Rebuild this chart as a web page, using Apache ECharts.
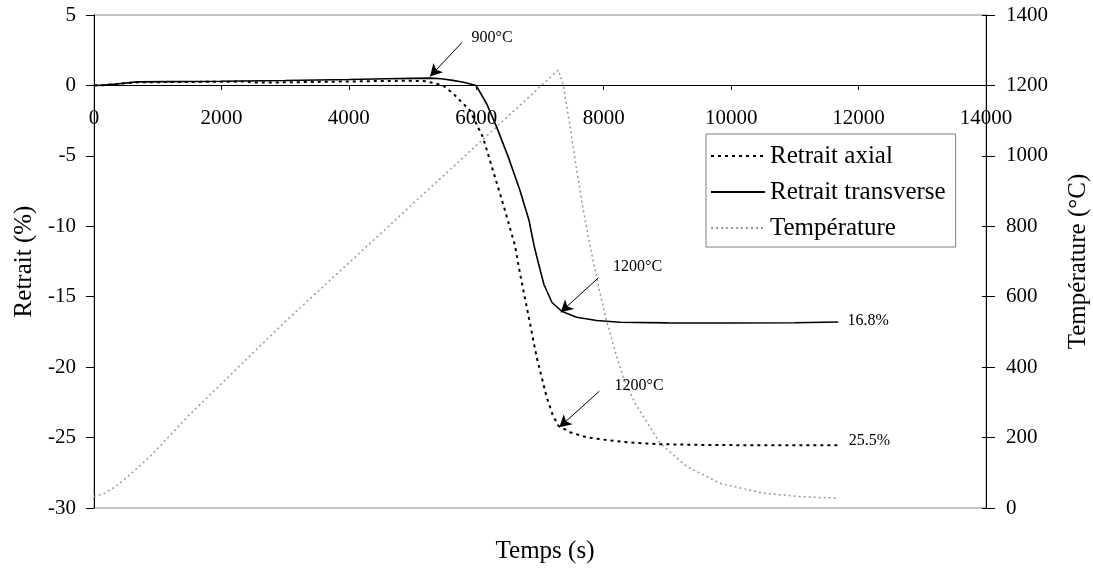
<!DOCTYPE html>
<html>
<head>
<meta charset="utf-8">
<script src="https://cdn.jsdelivr.net/npm/echarts@6/dist/echarts.min.js"></script>
<style>html,body{margin:0;padding:0;background:#fff;}#c{width:1093px;height:569px;}</style>
</head>
<body>
<div id="c"></div>
<script>
// ---- data ----
const axialTime = [0,150,350,675,1200,2000,2400,2500,3000,4000,4600,5000,5200,5350,5480,5635,5901,6105,6262,6419,6607,6686,6812,6948,7105,7200,7287,7471,7733,8099,8500,8884,9500,10500,11680];
const axialValues = [0,0.02,0.1,0.22,0.24,0.26,0.28,0.2,0.22,0.28,0.32,0.33,0.3,0.15,0,-0.57,-1.78,-3.69,-6.04,-8.38,-11.36,-13.35,-16.19,-19.3,-22.14,-23.4,-24.15,-24.62,-24.98,-25.21,-25.38,-25.47,-25.52,-25.55,-25.55];
const transTime = [0,150,350,675,1200,2000,3000,4000,4600,5000,5274,5450,5630,5800,5996,6163,6320,6503,6686,6828,6906,6984,7062,7188,7345,7576,7890,8256,9000,10000,11000,11680];
const transValues = [0,0.02,0.1,0.25,0.27,0.3,0.35,0.42,0.47,0.5,0.52,0.47,0.36,0.22,0,-1.3,-2.96,-5.09,-7.46,-9.59,-11.36,-12.78,-14.13,-15.41,-16.05,-16.46,-16.69,-16.81,-16.86,-16.87,-16.85,-16.8];
const tempTime = [0,150,350,600,900,1500,3000,5000,7288,7366,7471,7576,7680,7785,7916,8047,8204,8308,8491,8884,9303,9826,10505,11100,11680];
const tempValues = [33,40,62,100,150,265,529,863,1244,1201,1083,960,846,745,630,530,430,370,298,184,118,70,42,32,28];
const seriesNames = ['Retrait axial','Retrait transverse','Température'];
const xTicks = {min:0,max:14000,interval:2000};
const yLeftTicks = {min:-30,max:5,interval:5};
const yRightTicks = {min:0,max:1400,interval:200};
// annotations: [label, textTime, textValue, arrowFromTime, arrowFromValue, arrowToTime, arrowToValue]
const arrowNotes = [
  ['900°C',6247,3.41,5776,3.05,5274,0.64],
  ['1200°C',8531,-12.86,7915,-13.66,7325,-16.1],
  ['1200°C',8554,-21.31,7931,-21.71,7303,-24.27]
];
const endNotes = [['16.8%',12149,-16.69],['25.5%',12172,-25.21]];

const zip = (a,b)=>a.map((t,i)=>[t,b[i]]);
const FONT = '"Liberation Serif","Times New Roman",serif';
const plain = v=>String(v);

const chart = echarts.init(document.getElementById('c'), null, {renderer:'canvas'});
const markPts = arrowNotes.map(n=>({coord:[n[1],n[2]], value:n[0]}))
  .concat(endNotes.map(n=>({coord:[n[1],n[2]], value:n[0]})));
const markLns = arrowNotes.map(n=>[{coord:[n[3],n[4]]},{coord:[n[5],n[6]]}]);

chart.setOption({
  animation:false,
  backgroundColor:'#fff',
  title:{text:'Temps (s)', left:540, top:534, textAlign:'center',
    textStyle:{fontFamily:FONT, fontSize:25, fontWeight:'normal', color:'#000'}},
  grid:{left:94, right:107, top:15, bottom:61, show:true, borderColor:'#888', borderWidth:1,
    containLabel:false, outerBoundsMode:'none'},
  legend:{orient:'vertical', left:706, top:134, itemWidth:54, itemHeight:14, itemGap:10,
    backgroundColor:'#fff', borderColor:'#808080', borderWidth:1, padding:[9,10,6,4],
    itemStyle:{opacity:0},
    textStyle:{fontFamily:FONT, fontSize:25, lineHeight:26, color:'#000'},
    data:seriesNames},
  xAxis:{type:'value', min:xTicks.min, max:xTicks.max, interval:xTicks.interval,
    offset:-423,
    axisLine:{onZero:false, lineStyle:{color:'#000', width:1}},
    axisTick:{show:true, length:5, lineStyle:{color:'#000'}},
    axisLabel:{margin:23, fontFamily:FONT, fontSize:21, color:'#000', formatter:plain},
    splitLine:{show:false}},
  yAxis:[
    {type:'value', position:'left', min:yLeftTicks.min, max:yLeftTicks.max, interval:yLeftTicks.interval,
     name:'Retrait (%)', nameLocation:'middle', nameGap:57, nameRotate:90,
     nameTextStyle:{fontFamily:FONT, fontSize:25, color:'#000'},
     axisLine:{show:true, lineStyle:{color:'#000'}},
     axisTick:{show:true, length:8, lineStyle:{color:'#000'}},
     axisLabel:{margin:18, fontFamily:FONT, fontSize:21, color:'#000', formatter:plain},
     splitLine:{show:false}},
    {type:'value', position:'right', min:yRightTicks.min, max:yRightTicks.max, interval:yRightTicks.interval,
     name:'Température (°C)', nameLocation:'middle', nameGap:80, nameRotate:90,
     nameTextStyle:{fontFamily:FONT, fontSize:25, color:'#000'},
     axisLine:{show:true, lineStyle:{color:'#000'}},
     axisTick:{show:true, length:9, lineStyle:{color:'#000'}},
     axisLabel:{margin:20, fontFamily:FONT, fontSize:21, color:'#000', formatter:plain},
     splitLine:{show:false}},
    {type:'value', position:'right', min:yRightTicks.min, max:yRightTicks.max, interval:yRightTicks.interval,
     axisLine:{show:false}, axisTick:{show:true, inside:true, length:4, lineStyle:{color:'#000'}},
     axisLabel:{show:false}, splitLine:{show:false}}
  ],
  series:[
    {name:seriesNames[0], type:'line', yAxisIndex:0, symbol:'none', smooth:false,
     data:zip(axialTime, axialValues),
     lineStyle:{color:'#000', width:2, type:[3,4]}, itemStyle:{color:'#000'}},
    {name:seriesNames[1], type:'line', yAxisIndex:0, symbol:'none', smooth:false,
     data:zip(transTime, transValues),
     lineStyle:{color:'#000', width:1.6, type:'solid'}, itemStyle:{color:'#000'},
     markPoint:{symbol:'rect', symbolSize:1, itemStyle:{color:'rgba(0,0,0,0)'}, silent:true,
       label:{show:true, position:'inside', formatter:p=>p.value, fontFamily:FONT, fontSize:16, color:'#000'},
       data:markPts},
     markLine:{silent:true, symbol:['none','arrow'], symbolSize:[10,12],
       lineStyle:{color:'#000', width:1, type:'solid'}, label:{show:false}, data:markLns}},
    {name:seriesNames[2], type:'line', yAxisIndex:1, symbol:'none', smooth:false,
     data:zip(tempTime, tempValues),
     lineStyle:{color:'#999', width:1.5, type:[2,3]}, itemStyle:{color:'#999'}}
  ]
});
</script>
</body>
</html>
